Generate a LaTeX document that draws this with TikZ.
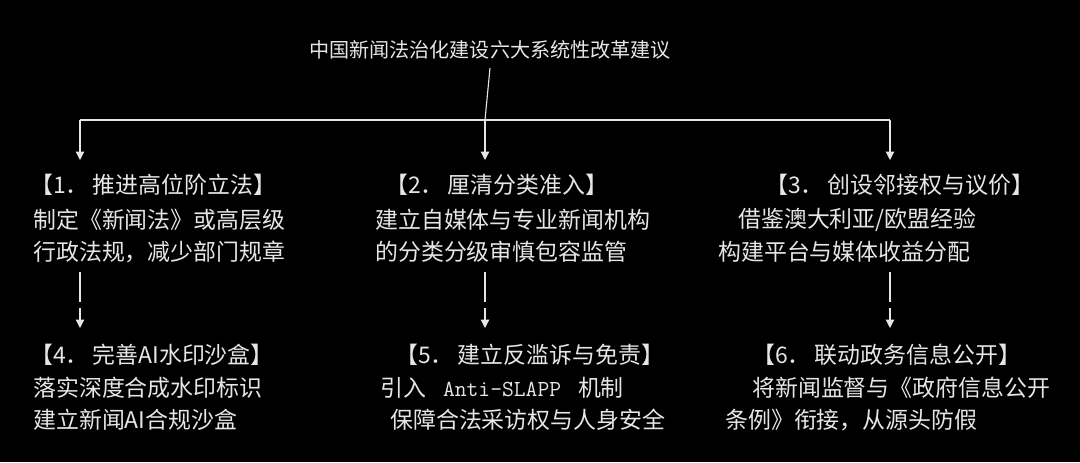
\documentclass[tikz,border=0pt]{standalone}
\usepackage{fontspec}
\setmainfont{Noto Sans CJK SC}
\usetikzlibrary{arrows.meta}
\definecolor{ink}{HTML}{E6E6E6}
\begin{document}
\begin{tikzpicture}[x=0.025cm, y=-0.025cm, >={Triangle[length=6pt,width=6pt]}]
\tikzset{txt/.style={anchor=west, inner sep=0pt, text=ink, font=\fontsize{16.3pt}{19pt}\selectfont},
         link/.style={draw=ink, line width=0.8pt}}
\fill[black] (0,0) rectangle (1080,462);
% title
\node[txt, anchor=center, font=\fontsize{14.3pt}{17pt}\selectfont] (t) at (490,50) {中国新闻法治化建设六大系统性改革建议};
\coordinate (j1) at (80,120);
\coordinate (j2) at (485,120);
\coordinate (j3) at (890,120);
% row one
\node[txt] (h1) at (30,185) {【1．\,推进高位阶立法】};
\node[txt] (a1) at (33,220) {制定《新闻法》或高层级};
\node[txt] (b1) at (33,252) {行政法规，减少部门规章};
\node[txt] (h2) at (385,185) {【2．\,厘清分类准入】};
\node[txt] (a2) at (375,220) {建立自媒体与专业新闻机构};
\node[txt] (b2) at (375,252) {的分类分级审慎包容监管};
\node[txt] (h3) at (765,185) {【3．\,创设邻接权与议价】};
\node[txt] (a3) at (738,220) {借鉴澳大利亚/欧盟经验};
\node[txt] (b3) at (718,252) {构建平台与媒体收益分配};
% row two
\node[txt] (h4) at (30,355) {【4．\,完善AI水印沙盒】};
\node[txt] (a4) at (33,388) {落实深度合成水印标识};
\node[txt] (b4) at (33,420) {建立新闻AI合规沙盒};
\node[txt] (h5) at (395,355) {【5．\,建立反滥诉与免责】};
\node[txt] (a5) at (380,388) {引入 \texttt{\ Anti-SLAPP\ } 机制};
\node[txt] (b5) at (390,420) {保障合法采访权与人身安全};
\node[txt] (h6) at (752,355) {【6．\,联动政务信息公开】};
\node[txt] (a6) at (752,388) {将新闻监督与《政府信息公开};
\node[txt] (b6) at (725,420) {条例》衔接，从源头防假};
% connectors
\draw[link] (t.south |- 0,68) -- (j2);
\draw[link] (j1) -- (j3);
\draw[link,->] (j1) -- (80,160);
\draw[link,->] (j2) -- (485,160);
\draw[link,->] (j3) -- (890,160);
\coordinate (d1) at (80,272);
\coordinate (d2) at (485,272);
\coordinate (d3) at (890,272);
\draw[link] (d1) -- ++(0,30);
\draw[link,->] (80,308) -- (80,328);
\draw[link] (d2) -- ++(0,30);
\draw[link,->] (485,308) -- (485,328);
\draw[link] (d3) -- ++(0,30);
\draw[link,->] (890,308) -- (890,328);
\end{tikzpicture}
\end{document}
